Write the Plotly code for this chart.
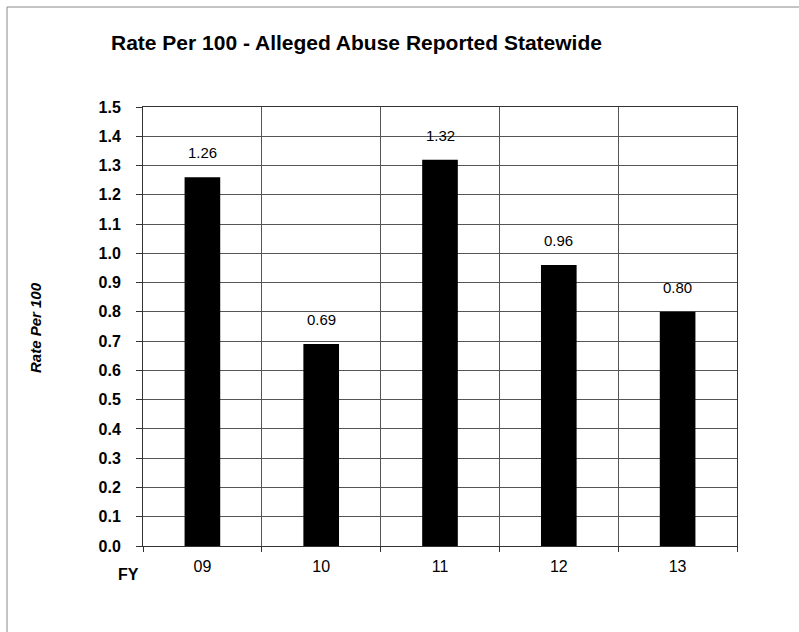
import plotly.graph_objects as go

categories = ["09", "10", "11", "12", "13"]
values = [1.26, 0.69, 1.32, 0.96, 0.80]
y_ticks = [round(i * 0.1, 1) for i in range(16)]
y_tick_labels = [f"{v:.1f}" for v in y_ticks]

W, H = 799, 632
L, R, T, B = 143, 62, 107, 86
pw, ph = W - L - R, H - T - B

def px_x(x):
    return (x - L) / pw

def px_y(y):
    return 1 - (y - T) / ph

FONT = "Liberation Sans, Arial, sans-serif"

fig = go.Figure()
fig.add_trace(go.Bar(
    x=categories, y=values, width=0.3,
    marker=dict(color="black", line=dict(width=0)),
    hoverinfo="skip",
))

for i, v in enumerate(values):
    fig.add_annotation(x=i, y=v, text=f"{v:.2f}", showarrow=False,
                       yanchor="bottom", yshift=14,
                       font=dict(family=FONT, size=15, color="black"))

fig.add_annotation(xref="paper", yref="paper", x=px_x(128), y=px_y(574),
                   text="<b>FY</b>", showarrow=False, xanchor="center", yanchor="middle",
                   font=dict(family=FONT, size=16, color="black"))
fig.add_annotation(xref="paper", yref="paper", x=px_x(35), y=px_y(328),
                   text="<b><i>Rate Per 100</i></b>", showarrow=False, textangle=-90,
                   xanchor="center", yanchor="middle",
                   font=dict(family=FONT, size=15, color="black"))
fig.add_annotation(xref="paper", yref="paper", x=px_x(109), y=px_y(43),
                   text="<b>Rate Per 100 - Alleged Abuse Reported Statewide</b>",
                   showarrow=False, xanchor="left", yanchor="middle",
                   font=dict(family=FONT, size=21, color="black"))

# outer frame (left and top edges visible)
fig.add_shape(type="path", xref="paper", yref="paper",
              path=f"M {px_x(7)} {px_y(640)} L {px_x(7)} {px_y(7)} L {px_x(805)} {px_y(7)}",
              line=dict(color="#888", width=1))

fig.update_layout(
    width=W, height=H,
    margin=dict(l=L, r=R, t=T, b=B),
    paper_bgcolor="white", plot_bgcolor="white",
    showlegend=False,
    font=dict(family=FONT, color="black"),
)
fig.update_xaxes(
    type="category", range=[-0.5, 4.5], tickson="boundaries", ticks="outside", ticklen=5,
    tickcolor="#333", showgrid=True, gridcolor="#555", gridwidth=1,
    showline=True, linecolor="#333", linewidth=1, mirror=True,
    tickfont=dict(family=FONT, size=16, color="black"), ticklabelstandoff=6,
)
fig.update_yaxes(
    range=[0, 1.5], tickvals=y_ticks, ticktext=y_tick_labels,
    ticks="outside", ticklen=6, tickcolor="#333",
    showgrid=True, gridcolor="#555", gridwidth=1,
    showline=True, linecolor="#333", linewidth=1, mirror=True, zeroline=False,
    tickfont=dict(family=FONT, size=16, color="black", weight="bold"),
    ticklabelstandoff=12,
)

fig.write_html("out.html", config={"displayModeBar": False},
               post_script="document.body.style.margin='0px';document.body.style.padding='0px';")
